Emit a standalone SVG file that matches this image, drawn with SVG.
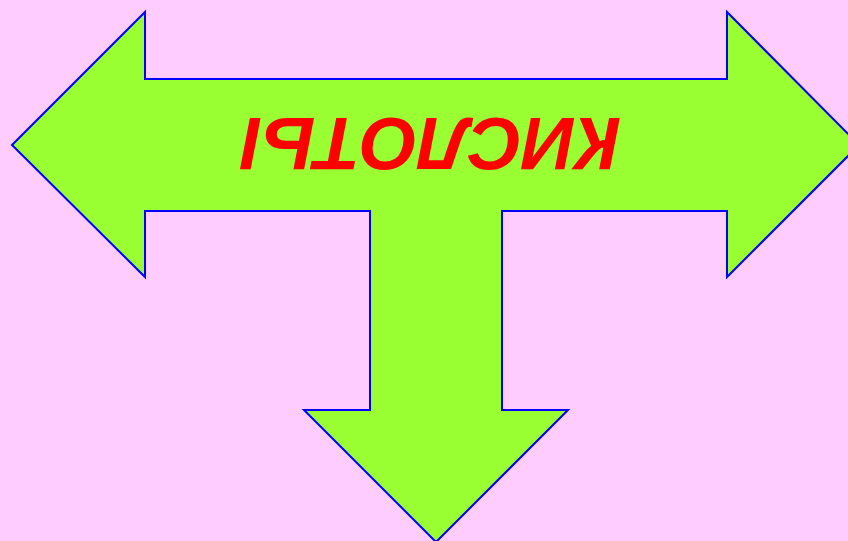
<svg xmlns="http://www.w3.org/2000/svg" width="848" height="541" viewBox="0 0 848 541">
<style>
.arrow{fill:#99ff33;stroke:#0000ff;stroke-width:2;stroke-linejoin:miter}
.lbl{font-family:"Liberation Sans",Arial,sans-serif;font-weight:bold;font-style:italic;font-size:74px;fill:#ff0000}
</style>
<rect width="848" height="541" fill="#ffccff"/>
<g id="arrow-node">
<polygon class="arrow" points="12,145 145,12 145,79 727,79 727,12 859,145 727,277 727,211 502,211 502,410 568,410 436,542 304,410 370,410 370,211 145,211 145,277"/>
<text class="lbl" x="431" y="172" text-anchor="middle" transform="rotate(180 431 145)">КИСЛОТЫ</text>
</g>
<g id="connectors"></g>
</svg>
